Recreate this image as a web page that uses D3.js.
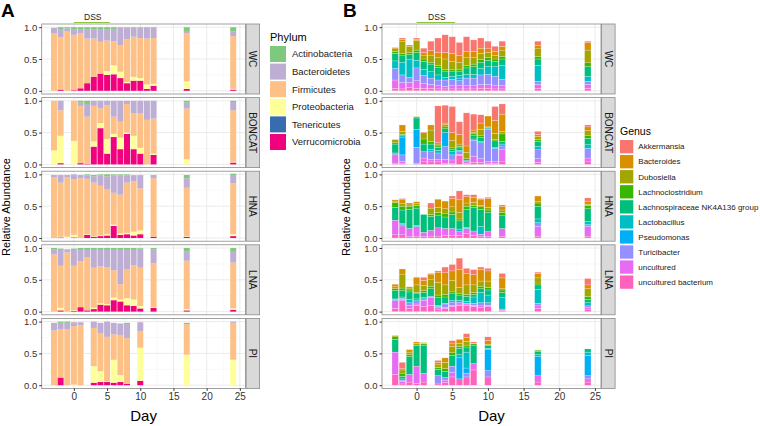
<!DOCTYPE html>
<html>
<head>
<meta charset="utf-8">
<script src="https://cdn.jsdelivr.net/npm/d3@7"></script>
<style>
body { margin: 0; background: #fff; }
text { font-family: "Liberation Sans", Arial, sans-serif; }
</style>
</head>
<body>
<div id="chart"></div>
<script>
var width = 760;
var height = 426;

var facets = ["WC", "BONCAT", "HNA", "LNA", "PI"];
var xTicks = [0, 5, 10, 15, 20, 25];
var yTicks = [0, 0.5, 1];
var yTickLabels = ["0.0", "0.5", "1.0"];
var dssDays = [0, 5.4];

var phyla = ["Actinobacteria", "Bacteroidetes", "Firmicutes", "Proteobacteria", "Tenericutes", "Verrucomicrobia"];
var phylumColors = ["#7fc97f", "#beaed4", "#fdc086", "#ffff99", "#386cb0", "#f0027f"];

var genera = ["Akkermansia", "Bacteroides", "Dubosiella", "Lachnoclostridium", "Lachnospiraceae NK4A136 group",
  "Lactobacillus", "Pseudomonas", "Turicibacter", "uncultured", "uncultured bacterium"];
var genusColors = ["#F8766D", "#D89000", "#A3A500", "#39B600", "#00BF7D", "#00BFC4", "#00B0F6", "#9590FF", "#E76BF3", "#FF62BC"];

// [day, Actinobacteria, Bacteroidetes, Firmicutes, Proteobacteria, Tenericutes, Verrucomicrobia]
var phylumWC = [
  [-3, 0, .09, .90, 0, 0, 0], [-2, .03, .13, .82, 0, 0, .02], [-1, .02, .05, .93, 0, 0, 0],
  [0, .03, .09, .87, 0, 0, .01], [1, .03, .07, .86, 0, 0, .04], [2, .03, .15, .70, 0, 0, .12],
  [3, .04, .14, .60, 0, 0, .22], [4, .04, .19, .50, 0, 0, .27], [5, .04, .17, .48, .06, 0, .25],
  [6, .03, .19, .38, .14, 0, .26], [7, .01, .27, .42, .10, 0, .20], [8, .01, .18, .67, .02, 0, .12],
  [9, .01, .14, .63, .06, 0, .16], [10, .01, .16, .63, .04, 0, .16], [11, .01, .17, .72, .07, 0, .03],
  [12, .01, .16, .72, .03, 0, .08], [17, .06, .04, .75, .12, 0, .03], [24, .07, .07, .83, .01, 0, .02]
];
var phylumBONCAT = [
  [-3, 0, 0, .78, .22, 0, 0], [-2, 0, .15, .40, .43, 0, .02],
  [0, 0, 0, .63, .37, 0, 0], [1, .03, .05, .90, 0, 0, .02], [2, .05, .20, .74, 0, 0, .01],
  [3, 0, .08, .56, .08, 0, .28], [4, 0, .12, .23, .08, 0, .57], [5, 0, .07, .53, .23, 0, .17],
  [6, 0, .25, .27, .05, 0, .43], [7, 0, .33, .25, .18, 0, .24], [8, 0, .05, .45, .02, 0, .48],
  [9, 0, .20, .35, .21, 0, .24], [10, 0, .20, .54, .09, 0, .17], [11, 0, .30, .70, 0, 0, 0],
  [12, 0, .28, .55, .02, 0, .15], [17, .03, .09, .80, .08, 0, 0], [24, .02, .13, .81, .01, 0, .03]
];
var phylumHNA = [
  [-3, 0, .04, .95, 0, 0, 0], [-2, 0, .12, .85, .01, 0, .01], [-1, 0, .04, .93, .02, 0, 0],
  [0, 0, .08, .87, .04, 0, .01], [1, 0, .05, .94, 0, 0, 0], [2, .02, .05, .87, .01, 0, .05],
  [3, .02, .10, .84, .01, 0, .02], [4, .02, .16, .78, .01, 0, .03], [5, .03, .20, .71, .02, 0, .04],
  [6, .02, .27, .50, .02, 0, .19], [7, .02, .30, .61, .02, 0, .05], [8, .02, .11, .79, .02, 0, .06],
  [9, .01, .09, .79, .06, 0, .04], [10, .01, .20, .66, .06, 0, .06], [12, 0, .05, .92, 0, 0, .02],
  [17, .05, .15, .76, .01, 0, .02], [24, .02, .13, .80, .03, 0, .03]
];
var phylumLNA = [
  [-3, .02, .08, .90, 0, 0, 0], [-2, .02, .25, .66, .04, 0, .02], [-1, 0, .05, .93, 0, 0, 0],
  [0, .02, .25, .70, .01, 0, .01], [1, .03, .18, .72, 0, 0, .07], [2, .03, .12, .83, 0, 0, .02],
  [3, .03, .28, .63, .02, 0, .04], [4, .03, .26, .58, .02, 0, .11], [5, .03, .27, .58, .02, 0, .10],
  [6, .03, .32, .43, .04, 0, .18], [7, .03, .54, .24, .03, 0, .16], [8, .03, .31, .45, .11, 0, .10],
  [9, .03, .24, .54, .10, 0, .09], [10, .01, .30, .60, .04, 0, .05], [12, .02, .22, .69, .01, 0, .06],
  [17, .05, .15, .76, .02, 0, .02], [24, .06, .17, .72, .02, 0, .03]
];
var phylumPI = [
  [-3, 0, .12, .86, 0, 0, 0], [-2, .02, .10, .76, 0, 0, .12], [-1, .02, .10, .88, 0, 0, 0],
  [0, 0, .06, .92, .01, 0, 0], [1, 0, .05, .94, 0, 0, 0],
  [3, 0, .10, .60, .26, 0, .04], [4, 0, .16, .60, .17, 0, .05], [5, 0, .24, .70, .01, 0, .05],
  [6, 0, .18, .40, .36, 0, .04], [7, 0, .18, .63, .11, 0, .05], [8, .02, .22, .72, 0, 0, .02],
  [10, 0, .14, .26, .52, 0, .07], [17, .02, 0, .48, .48, 0, 0], [24, 0, .02, .58, .40, 0, 0]
];

// [day, Akkermansia, Bacteroides, Dubosiella, Lachnoclostridium, Lachnospiraceae NK4A136,
//  Lactobacillus, Pseudomonas, Turicibacter, uncultured, uncultured bacterium]
var genusWC = [
  [-3, 0, .02, .04, .03, .12, .12, 0, .18, .13, .04], [-2, .02, .04, .18, .04, .10, .20, 0, .12, .10, .03],
  [-1, 0, .02, .10, .03, .08, .28, 0, .08, .08, .05], [0, .02, .02, .15, .04, .12, .12, 0, .20, .12, .04],
  [1, .07, .05, .05, .04, .12, .10, 0, .12, .08, .04], [2, .15, .08, .10, .03, .12, .10, 0, .10, .06, .04],
  [3, .23, .08, .12, .03, .12, .08, 0, .09, .05, .03], [4, .28, .10, .16, .03, .10, .04, 0, .10, .04, .03],
  [5, .26, .13, .12, .03, .08, .05, 0, .10, .05, .03], [6, .20, .11, .12, .03, .06, .04, .04, .08, .05, .03],
  [7, .23, .10, .12, .04, .10, .06, 0, .12, .05, .03], [8, .18, .10, .10, .04, .12, .06, 0, .12, .05, .03],
  [9, .16, .08, .10, .04, .10, .10, 0, .15, .06, .04], [10, .12, .06, .08, .04, .10, .12, 0, .16, .06, .04],
  [11, .08, .06, .06, .04, .08, .15, 0, .14, .06, .03], [12, .08, .06, .10, .04, .10, .22, 0, .10, .05, .03],
  [17, .07, .05, .12, .04, .10, .25, 0, .05, .06, .04], [24, .02, .12, .20, .06, .15, .08, 0, .05, .06, .04]
];
var genusBONCAT = [
  [-3, 0, 0, .05, .02, .14, 0, 0, .03, .13, .02], [-2, 0, .10, .05, 0, .02, .02, .28, .10, .03, .02],
  [0, 0, 0, .02, 0, .18, 0, .28, .25, .02, 0], [1, .01, 0, .10, .08, .12, 0, 0, .10, .06, .04],
  [2, 0, .08, .18, .04, .08, .04, 0, .12, .04, .04], [3, .58, .02, .03, .02, .05, .04, 0, .10, .04, .04],
  [4, .28, .02, .04, .03, .06, 0, .22, .20, .06, .02], [5, .41, .12, .12, .02, .04, .05, 0, .08, .05, .02],
  [6, .20, .15, .04, .02, .04, .02, 0, .04, .02, .14], [7, .52, .10, .10, 0, .03, 0, 0, .02, .02, .02],
  [8, .25, .04, .02, .03, .05, .02, 0, .25, .10, .03], [9, .13, .10, .10, .03, .06, .02, 0, .25, .06, .03],
  [10, 0, .17, .01, 0, .02, .01, 0, .50, .03, .02], [11, .22, .20, .10, .02, .10, 0, .02, .20, .03, .02],
  [12, .16, .27, .04, .12, .04, .03, 0, .05, .20, .04], [17, .05, .03, .05, .03, .08, .05, 0, .14, .06, .03],
  [24, .03, .06, .08, .04, .10, .06, 0, .15, .06, .04]
];
var genusHNA = [
  [-3, 0, .02, .02, .08, .20, 0, 0, 0, .23, .05], [-2, .02, .06, .04, .06, .21, .02, 0, .02, .14, .05],
  [-1, 0, .03, .02, .05, .30, 0, 0, 0, .13, .02], [0, 0, .03, .03, .04, .27, .02, 0, 0, .15, .03],
  [1, 0, 0, 0, 0, .28, 0, 0, 0, .07, .02], [2, .08, 0, .10, .03, .22, 0, 0, 0, .09, .03],
  [3, 0, .13, .08, .04, .20, 0, 0, 0, .13, .03], [4, 0, .12, .08, .05, .18, 0, 0, 0, .11, .04],
  [5, .04, .13, .08, .04, .22, 0, 0, 0, .11, .04], [6, .14, .20, .10, .03, .13, .04, 0, 0, .06, .04],
  [7, .03, .10, .05, .05, .28, .02, 0, 0, .08, .07], [8, .04, .08, .05, .03, .37, 0, 0, 0, .07, .04],
  [9, .02, .09, .02, .04, .27, .12, 0, 0, .04, .02], [10, .02, .14, .04, .04, .30, 0, 0, 0, .08, .02],
  [12, .02, .06, .04, .05, .20, 0, 0, 0, .13, .02], [17, 0, .09, .02, .05, .20, .06, 0, .06, .15, .03],
  [24, .05, .05, .02, .05, .20, .05, 0, .03, .15, .03]
];
var genusLNA = [
  [-3, 0, .04, .03, .03, .13, .01, 0, .02, .12, .05], [-2, 0, .08, .22, .04, .10, .02, 0, .02, .02, .17],
  [-1, 0, .02, .03, .03, .12, .05, 0, .04, .05, .05], [0, 0, .12, .12, .02, .08, .03, 0, .05, .02, .10],
  [1, .05, .08, .08, .03, .08, .02, 0, .02, .10, .08], [2, .01, .09, .10, .04, .12, 0, 0, .02, .12, .10],
  [3, .02, .16, .20, .04, .12, .02, 0, .02, .02, .04], [4, .09, .19, .15, .04, .10, .01, 0, .05, .02, .05],
  [5, .10, .15, .18, .03, .10, .03, 0, .05, .02, .08], [6, .18, .28, .10, .02, .08, .03, 0, .03, .02, .10],
  [7, .08, .18, .15, .03, .08, .03, 0, .01, .02, .10], [8, .08, .16, .12, .03, .04, .10, 0, .03, .02, .08],
  [9, .04, .18, .08, .04, .06, .16, 0, .05, .03, .06], [10, .04, .16, .10, .04, .08, .12, 0, .04, .02, .08],
  [12, .07, .17, .02, .04, .08, .18, 0, 0, .02, .02], [17, .02, .07, .08, .03, .07, .22, 0, .04, .04, .05],
  [24, .10, .06, .12, .05, .05, .05, 0, .03, .02, .04]
];
var genusPI = [
  [-3, 0, 0, .02, .04, .20, 0, 0, 0, .35, .17], [-2, .10, .02, .05, .05, .04, .02, 0, .02, .04, .02],
  [-1, 0, .04, .04, .03, .28, 0, 0, 0, .12, .05], [0, 0, .02, .04, 0, .32, 0, 0, 0, .27, .03],
  [1, 0, .01, .01, .02, .44, 0, 0, 0, .14, .05], [3, .03, .04, .04, .03, .10, 0, 0, .13, 0, .02],
  [4, 0, .07, .10, .04, .10, 0, 0, .04, .04, .04], [5, .05, .04, .10, .04, .17, 0, 0, .10, .07, .13],
  [6, 0, .06, .05, .03, .10, .05, .33, 0, 0, .10], [7, .06, .06, .06, .03, .08, .25, .08, .06, 0, .13],
  [8, .02, 0, .01, .03, .28, 0, 0, 0, .10, .24], [10, .06, .06, .02, 0, .04, .02, .33, .10, 0, .13],
  [17, 0, 0, 0, .02, .05, .03, .30, 0, .10, .05], [24, 0, 0, 0, 0, .05, .05, .32, .05, .05, .05]
];

var phylumTables = [phylumWC, phylumBONCAT, phylumHNA, phylumLNA, phylumPI];
var genusTables = [genusWC, genusBONCAT, genusHNA, genusLNA, genusPI];

var rowTop = 24, rowH = 70, rowGap = 3.6;
var svg = d3.select("#chart").append("svg")
  .attr("width", width).attr("height", height);

function drawSide(cfg) {
  var x = d3.scaleLinear().domain([-4.85, 25.85]).range(cfg.xRange);
  var g = svg.append("g");
  var bw = (x(0.9) - x(0));
  var keys = d3.range(cfg.cats.length, 0, -1); // bottom category first
  var stack = d3.stack().keys(keys).value(function(d, k) { return d[k]; });

  facets.forEach(function(f, i) {
    var top = rowTop + i * (rowH + rowGap);
    var y = d3.scaleLinear().domain([-0.05, 1.05]).range([top + rowH, top]);
    var p = g.append("g");
    p.append("rect").attr("x", cfg.xRange[0]).attr("y", top)
      .attr("width", cfg.xRange[1] - cfg.xRange[0]).attr("height", rowH).attr("fill", "#fff");
    // minor grid
    p.selectAll(".gx2").data(d3.range(-2.5, 26, 5)).enter().append("line")
      .attr("x1", function(d) { return x(d); }).attr("x2", function(d) { return x(d); })
      .attr("y1", top).attr("y2", top + rowH).attr("stroke", "#f2f2f2").attr("stroke-width", 0.5);
    p.selectAll(".gy2").data([0.25, 0.75]).enter().append("line")
      .attr("x1", cfg.xRange[0]).attr("x2", cfg.xRange[1])
      .attr("y1", function(d) { return y(d); }).attr("y2", function(d) { return y(d); })
      .attr("stroke", "#f2f2f2").attr("stroke-width", 0.5);
    p.selectAll(".gx").data(xTicks).enter().append("line")
      .attr("x1", function(d) { return x(d); }).attr("x2", function(d) { return x(d); })
      .attr("y1", top).attr("y2", top + rowH).attr("stroke", "#e6e6e6").attr("stroke-width", 0.8);
    p.selectAll(".gy").data(yTicks).enter().append("line")
      .attr("x1", cfg.xRange[0]).attr("x2", cfg.xRange[1])
      .attr("y1", function(d) { return y(d); }).attr("y2", function(d) { return y(d); })
      .attr("stroke", "#e6e6e6").attr("stroke-width", 0.8);

    var series = stack(cfg.tables[i]);
    p.selectAll(".s").data(series).enter().append("g")
      .attr("fill", function(s) { return cfg.colors[s.key - 1]; })
      .selectAll("rect").data(function(s) { return s; }).enter().append("rect")
      .attr("x", function(d) { return x(d.data[0]) - bw / 2; })
      .attr("width", bw)
      .attr("y", function(d) { return y(d[1]); })
      .attr("height", function(d) { return Math.max(0, y(d[0]) - y(d[1])); })
      .attr("stroke", cfg.stroke ? "rgba(255,255,255,0.55)" : "none")
      .attr("stroke-width", 0.4);

    p.append("rect").attr("x", cfg.xRange[0]).attr("y", top)
      .attr("width", cfg.xRange[1] - cfg.xRange[0]).attr("height", rowH)
      .attr("fill", "none").attr("stroke", "#8a8a8a").attr("stroke-width", 0.8);

    // y axis
    var ya = p.append("g").attr("transform", "translate(" + cfg.xRange[0] + ",0)")
      .call(d3.axisLeft(y).tickValues(yTicks).tickSize(2.5).tickPadding(2)
        .tickFormat(function(d, j) { return yTickLabels[j]; }));
    ya.select(".domain").remove();
    ya.selectAll("line").attr("stroke", "#333");
    ya.selectAll("text").attr("font-size", 9.5).attr("fill", "#333")
      .attr("font-family", "Liberation Sans, Arial, sans-serif");

    // strip
    var sx = cfg.xRange[1] + 0.6;
    p.append("rect").attr("x", sx).attr("y", top).attr("width", cfg.stripW).attr("height", rowH)
      .attr("fill", "#d9d9d9").attr("stroke", "#8a8a8a").attr("stroke-width", 0.8);
    p.append("text").attr("transform", "translate(" + (sx + cfg.stripW / 2) + "," + (top + rowH / 2) + ") rotate(90)")
      .attr("text-anchor", "middle").attr("dy", "0.35em").attr("font-size", 10).attr("fill", "#1a1a1a")
      .text(f);

    if (i === facets.length - 1) {
      var xa = p.append("g").attr("transform", "translate(0," + (top + rowH) + ")")
        .call(d3.axisBottom(x).tickValues(xTicks).tickSize(2.5).tickPadding(2));
      xa.select(".domain").remove();
      xa.selectAll("line").attr("stroke", "#333");
      xa.selectAll("text").attr("font-size", 10).attr("fill", "#333")
        .attr("font-family", "Liberation Sans, Arial, sans-serif");
    }
  });

  // DSS bar
  g.append("line").attr("x1", x(dssDays[0])).attr("x2", x(dssDays[1]))
    .attr("y1", 22.5).attr("y2", 22.5).attr("stroke", "#8cc63f").attr("stroke-width", 1.2);
  g.append("text").attr("x", (x(dssDays[0]) + x(dssDays[1])) / 2 + 1).attr("y", 19.5)
    .attr("text-anchor", "middle").attr("font-size", 8.5).attr("fill", "#1a1a1a").text("DSS");

  // axis titles
  g.append("text").attr("transform", "translate(" + cfg.yLabelX + ",207) rotate(-90)")
    .attr("text-anchor", "middle").attr("font-size", 11).attr("fill", "#000").text("Relative Abundance");
  g.append("text").attr("x", (cfg.xRange[0] + cfg.xRange[1]) / 2).attr("y", 421)
    .attr("text-anchor", "middle").attr("font-size", 15).attr("fill", "#000").text("Day");
  g.append("text").attr("x", cfg.tagX).attr("y", 17).attr("font-size", 19).attr("font-weight", "bold")
    .attr("fill", "#000").text(cfg.tag);

  // legend
  var lg = g.append("g").attr("transform", "translate(" + cfg.legend.x + "," + cfg.legend.y + ")");
  lg.append("text").attr("x", 0).attr("y", -5).attr("font-size", cfg.legend.titleSize).attr("fill", "#000")
    .text(cfg.legend.title);
  var items = lg.selectAll(".it").data(cfg.cats).enter().append("g")
    .attr("transform", function(d, j) { return "translate(0," + (j * cfg.legend.step) + ")"; });
  items.append("rect").attr("width", cfg.legend.key).attr("height", cfg.legend.key)
    .attr("fill", function(d, j) { return cfg.colors[j]; });
  items.append("text").attr("x", cfg.legend.key + cfg.legend.gap).attr("y", cfg.legend.key / 2).attr("dy", "0.35em")
    .attr("font-size", cfg.legend.textSize).attr("fill", "#1a1a1a").text(function(d) { return d; });
}

drawSide({
  xRange: [41.7, 245.5], stripW: 13.5, tables: phylumTables, cats: phyla, colors: phylumColors,
  stroke: false, yLabelX: 10, tagX: 1, tag: "A",
  legend: { x: 270, y: 46, title: "Phylum", titleSize: 11, key: 16, step: 17.6, textSize: 9.5, gap: 6 }
});
drawSide({
  xRange: [382, 601], stripW: 13.5, tables: genusTables, cats: genera, colors: genusColors,
  stroke: true, yLabelX: 350, tagX: 343, tag: "B",
  legend: { x: 620, y: 140, title: "Genus", titleSize: 10.5, key: 13.3, step: 15.05, textSize: 8, gap: 5 }
});
</script>
</body>
</html>
